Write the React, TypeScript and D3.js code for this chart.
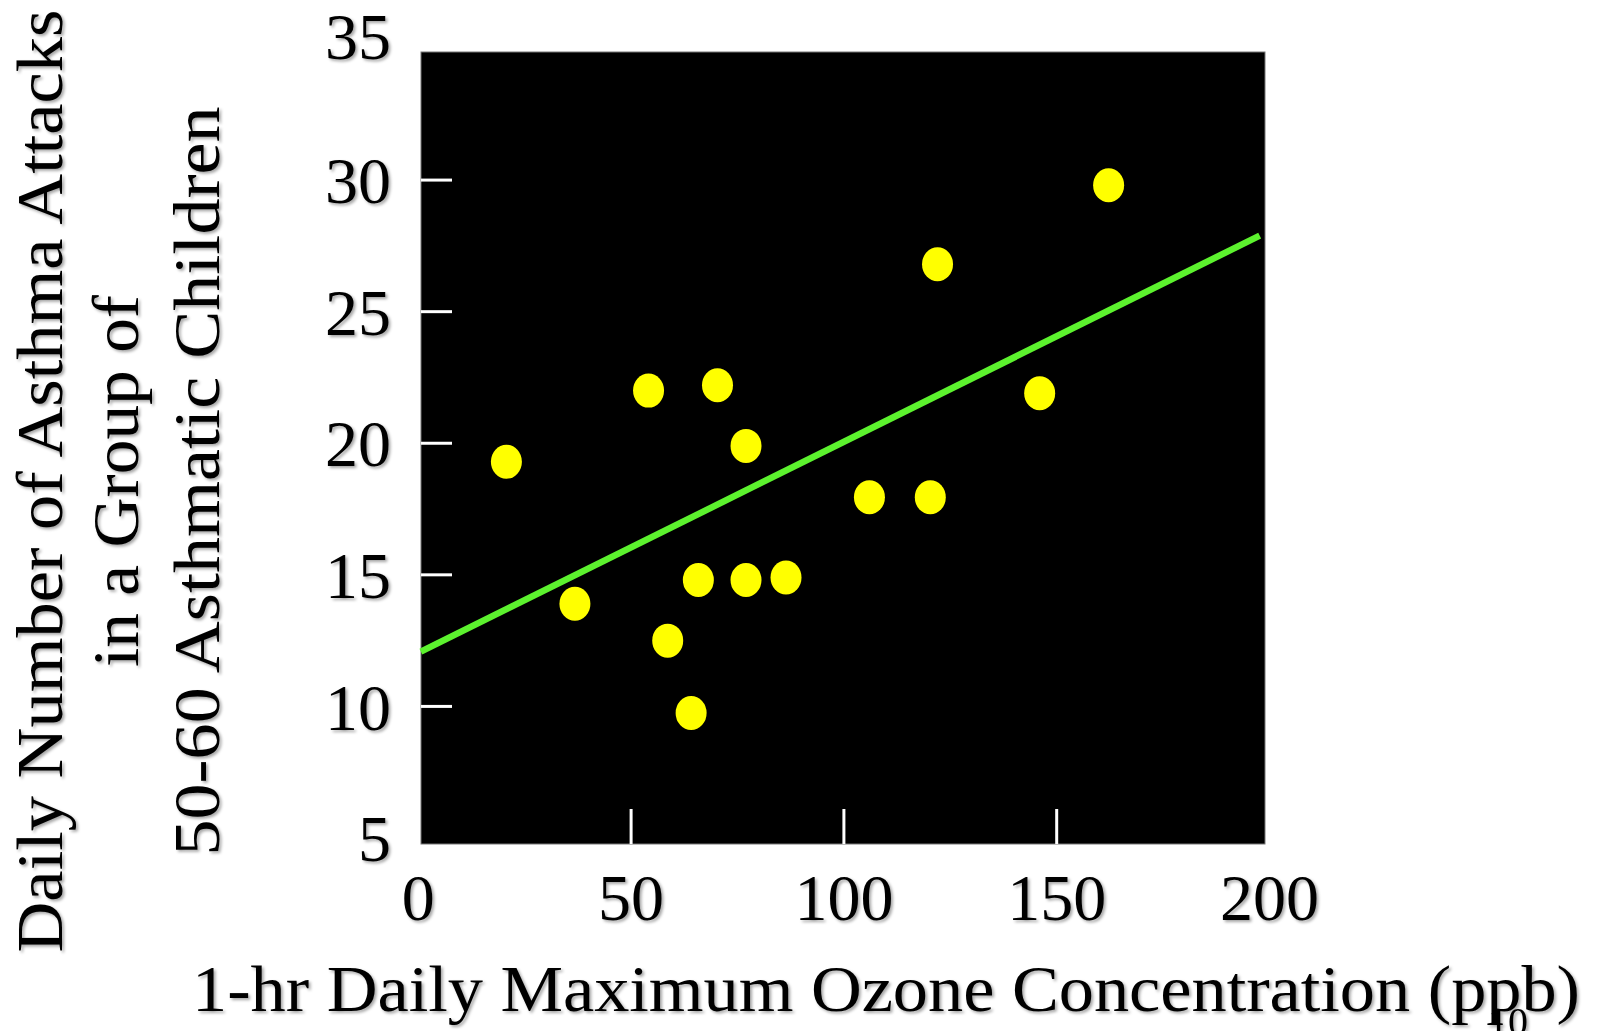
import React from "react";
import * as d3 from "d3";

// ozone (ppb) vs daily asthma attacks
const ozone = [20.7, 36.8, 54.1, 58.6, 64.1, 65.8, 70.3, 77.0, 77.0, 86.4, 106.0, 120.3, 122.0, 146.0, 162.2];
const attacks = [19.3, 13.9, 22.0, 12.5, 9.75, 14.8, 22.2, 19.9, 14.8, 14.9, 17.95, 17.95, 26.8, 21.9, 29.8];

// fitted line end points
const fitX = [0.6, 197.7];
const fitY = [12.08, 27.89];

const xTicks = [0, 50, 100, 150, 200];
const yTicks = [5, 10, 15, 20, 25, 30, 35];

const yTitle = ["Daily Number of Asthma Attacks", "in a Group of", "50-60 Asthmatic Children"];
const xTitle = "1-hr Daily Maximum Ozone Concentration (ppb)";

const W = 1598;
const H = 1031;
const plot = { left: 421, right: 1265, top: 52, bottom: 844 };
const font = "'Liberation Serif', 'Times New Roman', serif";

export default function App() {
  const x = d3.scaleLinear().domain([0, 200]).range([418.3, 1269.5]);
  const y = d3.scaleLinear().domain([5, 35]).range([838, 48.5]);

  const line = d3.line<number>()
    .x((d, i) => x(fitX[i]))
    .y(d => y(d));

  return (
    <svg width={W} height={H} style={{ position: "absolute", left: 0, top: 0, display: "block", background: "#fff" }}>
      <defs>
        <filter id="shadow" x="-10%" y="-10%" width="130%" height="130%">
          <feDropShadow dx="2" dy="2" stdDeviation="1.5" floodColor="#000" floodOpacity="0.35" />
        </filter>
      </defs>

      <rect x={plot.left} y={plot.top} width={plot.right - plot.left} height={plot.bottom - plot.top}
        fill="#000" stroke="#777" strokeWidth={1} />

      {/* white inner ticks */}
      {yTicks.filter(t => t > 5 && t < 35).map(t => (
        <line key={"yt" + t} x1={plot.left} x2={plot.left + 31} y1={y(t)} y2={y(t)} stroke="#fff" strokeWidth={3} />
      ))}
      {xTicks.filter(t => t > 0 && t < 200).map(t => (
        <line key={"xt" + t} x1={x(t)} x2={x(t)} y1={plot.bottom} y2={plot.bottom - 35} stroke="#fff" strokeWidth={3} />
      ))}

      <path d={line(fitY) || ""} stroke="#5cf22e" strokeWidth={6.5} fill="none" />

      {ozone.map((v, i) => (
        <ellipse key={i} cx={x(v)} cy={y(attacks[i])} rx={15.5} ry={17} fill="#ffff00" />
      ))}

      <g filter="url(#shadow)" fontFamily={font} fill="#000">
        {yTicks.map(t => (
          <text key={"yl" + t} x={391} y={t === 35 ? y(t) - 13 : y(t)} dy="0.35em" textAnchor="end" fontSize={66}>{t}</text>
        ))}
        {xTicks.map(t => (
          <text key={"xl" + t} x={x(t)} y={920} textAnchor="middle" fontSize={66}>{t}</text>
        ))}
        <text x={192} y={1011} fontSize={66} textLength={1388} lengthAdjust="spacingAndGlyphs">{xTitle}</text>
        {yTitle.map((s, i) => {
          const bx = [62, 138, 219][i];
          const len = [943, 372, 749][i];
          return (
            <text key={s} transform={`translate(${bx},481) rotate(-90)`} textAnchor="middle" fontSize={66}
              textLength={len} lengthAdjust="spacingAndGlyphs">{s}</text>
          );
        })}
        <text x={1488} y={1035} fontSize={40}>10</text>
      </g>
    </svg>
  );
}
